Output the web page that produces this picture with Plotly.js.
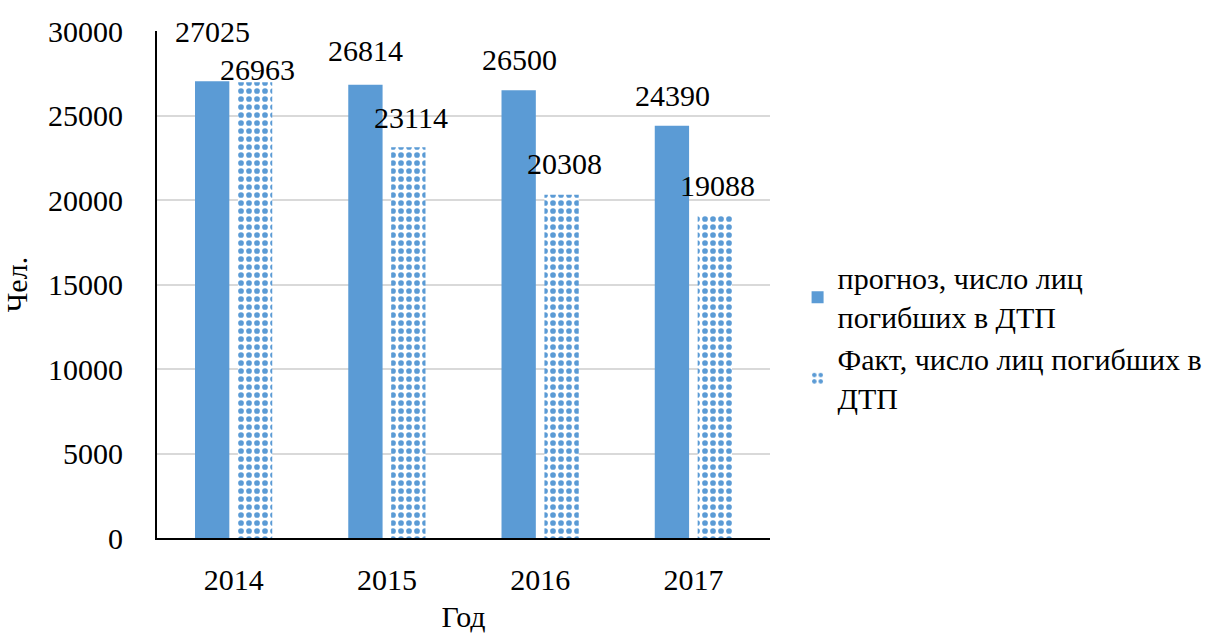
<!DOCTYPE html>
<html>
<head>
<meta charset="utf-8">
<script src="https://cdn.plot.ly/plotly-3.0.1.min.js"></script>
<style>
  html, body { margin: 0; padding: 0; background: #fff; }
  #chart { width: 1227px; height: 633px; }
  /* every chart text in the browser's serif face */
  svg text { font-family: serif !important; }
</style>
</head>
<body>
<div id="chart"></div>
<script>
// Годы наблюдения
const years = ['2014', '2015', '2016', '2017'];
// Прогноз числа лиц, погибших в ДТП
const forecast = [27025, 26814, 26500, 24390];
// Фактическое число лиц, погибших в ДТП
const actual = [26963, 23114, 20308, 19088];

const seriesNames = [
  'прогноз, число лиц<br>погибших в ДТП',
  'Факт, число лиц погибших в<br>ДТП'
];

const BLUE = '#5b9bd5';
const SIZE = 30;

// vertical lift of each value label above its bar top, px
const forecastLift = [50, 34, 31, 30];
const actualLift = [13, 30, 31, 30];
// horizontal offset from the category centre to each bar centre, px
const BAR_OFFSET = 21;

const traces = [
  {
    type: 'bar',
    name: seriesNames[0],
    x: years,
    y: forecast,
    marker: { color: BLUE }
  },
  {
    type: 'bar',
    name: seriesNames[1],
    x: years,
    y: actual,
    marker: {
      color: '#ffffff',
      pattern: { shape: '.', fgcolor: BLUE, bgcolor: '#ffffff', size: 8, solidity: 0.4 }
    }
  }
];

// value labels: horizontal position as the category centre in paper units
const annotations = [];
years.forEach((yr, i) => {
  const cx = (i + 0.5) / years.length;
  annotations.push({
    x: cx, y: forecast[i], xref: 'paper', yref: 'y',
    text: String(forecast[i]), showarrow: false,
    xshift: -BAR_OFFSET, yshift: forecastLift[i],
    xanchor: 'center', yanchor: 'middle'
  });
  annotations.push({
    x: cx, y: actual[i], xref: 'paper', yref: 'y',
    text: String(actual[i]), showarrow: false,
    xshift: BAR_OFFSET + 3, yshift: actualLift[i],
    xanchor: 'center', yanchor: 'middle'
  });
});

const layout = {
  width: 1227,
  height: 633,
  margin: { l: 157, r: 457, t: 31, b: 95 },
  paper_bgcolor: '#ffffff',
  plot_bgcolor: '#ffffff',
  font: { family: 'serif', size: SIZE, color: '#000' },
  barmode: 'group',
  bargap: 0.44,
  bargroupgap: 0.2,
  showlegend: true,
  legend: {
    x: 1.045, xanchor: 'left',
    y: 0.395, yanchor: 'middle',
    tracegroupgap: 6
  },
  xaxis: {
    type: 'category',
    range: [-0.5, years.length - 0.5],
    showline: true, linecolor: '#000', linewidth: 2,
    showgrid: false,
    ticks: 'outside', ticklen: 14, tickcolor: 'rgba(0,0,0,0)',
    title: { text: 'Год', font: { size: SIZE }, standoff: 12 }
  },
  yaxis: {
    range: [0, 30000],
    dtick: 5000,
    tickformat: 'd',
    showline: true, linecolor: '#000', linewidth: 2,
    showgrid: true, gridcolor: '#d9d9d9', gridwidth: 2,
    zeroline: false,
    ticks: 'outside', ticklen: 26, tickcolor: 'rgba(0,0,0,0)',
    title: { text: 'Чел.', font: { size: SIZE }, standoff: 14 }
  },
  annotations: annotations
};

Plotly.newPlot('chart', traces, layout, { displayModeBar: false, staticPlot: true });
</script>
</body>
</html>
